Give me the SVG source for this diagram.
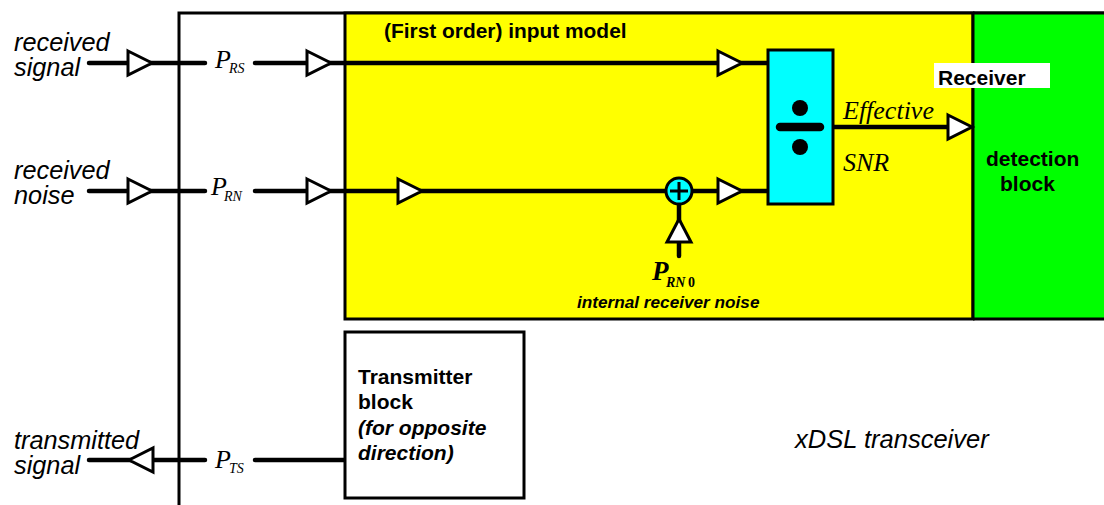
<svg xmlns="http://www.w3.org/2000/svg" width="1104" height="505" viewBox="0 0 1104 505">
<style>
.s{font-family:"Liberation Sans",Arial,sans-serif;fill:#000}
.i{font-style:italic}
.b{font-weight:bold}
.t{font-family:"Liberation Serif","Times New Roman",serif;font-style:italic;fill:#000}
.sub{font-size:14px}
.w{stroke:#000;stroke-width:4.500;stroke-linecap:round;fill:none}
.a{fill:#fff;stroke:#000;stroke-width:3}
.o{stroke:#000;stroke-width:3}
.l{stroke:#000;stroke-width:3;fill:none}
</style>
<defs>
<polygon id="ar" class="a" points="0,-12 24,0 0,12"/>
</defs>
<rect width="1104" height="505" fill="#fff"/>
<g id="transceiver"><path class="l" d="M179,505V13H1104"/></g>
<g id="input-model">
<rect x="345" y="13" width="628" height="306" fill="#ff0" class="o"/>
<text class="s b" x="384" y="38" font-size="20.900">(First order) input model</text>
</g>
<g id="detection-block">
<rect x="973" y="13" width="131" height="306" fill="#0f0"/>
<path class="l" d="M973,13V319M973,319H1104M973,13H1104"/>
<rect x="934" y="63" width="116" height="25" fill="#fff"/>
<text class="s b" x="938" y="85" font-size="21">Receiver</text>
<text class="s b" font-size="21"><tspan x="986" y="166">detection</tspan><tspan x="1000" y="191">block</tspan></text>
</g>
<g id="connectors">
<path class="w" d="M89,63H205M255,63H767M89,191H205M255,191H767M833,127H960M679,205V256M89,460H205M255,460H345"/>
<use href="#ar" x="128" y="63"/><use href="#ar" x="307" y="63"/><use href="#ar" x="718" y="63"/>
<use href="#ar" x="128" y="191"/><use href="#ar" x="307" y="191"/><use href="#ar" x="398" y="191"/><use href="#ar" x="718" y="191"/>
<use href="#ar" x="948" y="127"/>
<polygon class="a" points="679,219 691,242 667,242"/>
<polygon class="a" points="129,460 153,448 153,472"/>
</g>
<g id="divider">
<rect x="768" y="50" width="65" height="154" fill="#0ff" class="o"/>
<circle cx="800" cy="108" r="8"/><circle cx="800" cy="147" r="8"/>
<path d="M780,127H820" stroke="#000" stroke-width="8.500" stroke-linecap="round"/>
</g>
<g id="adder">
<circle cx="679" cy="191" r="13" fill="#0ff" class="o"/>
<path class="l" d="M679,182V200M670,191H688"/>
</g>
<g id="transmitter-block">
<rect x="345" y="332" width="179" height="166" fill="#fff" class="o"/>
<text class="s b" font-size="21"><tspan x="358" y="384">Transmitter</tspan><tspan x="358" y="409">block</tspan><tspan x="358" y="435" class="i">(for opposite</tspan><tspan x="358" y="460" class="i">direction)</tspan></text>
</g>
<g id="labels">
<text class="s i" font-size="25.300"><tspan x="14" y="51">received</tspan><tspan x="14" y="76">signal</tspan></text>
<text class="s i" font-size="25.300"><tspan x="14" y="179">received</tspan><tspan x="14" y="204">noise</tspan></text>
<text class="s i" font-size="25.300"><tspan x="14" y="449">transmitted</tspan><tspan x="14" y="474">signal</tspan></text>
<text class="t" font-size="26"><tspan x="215" y="68">P</tspan><tspan class="sub" x="229" y="73">RS</tspan></text>
<text class="t" font-size="26"><tspan x="211" y="195">P</tspan><tspan class="sub" x="224" y="201">RN</tspan></text>
<text class="t" font-size="26"><tspan x="215" y="468">P</tspan><tspan class="sub" x="229" y="473">TS</tspan></text>
<text class="t" x="843" y="119" font-size="26">Effective</text>
<text class="t" x="843" y="171" font-size="26">SNR</text>
<text class="t b" font-size="27"><tspan x="652" y="280">P</tspan><tspan class="sub" x="666" y="287">RN</tspan><tspan class="sub" x="688" y="287" style="font-style:normal">0</tspan></text>
<text class="s b i" x="577" y="308" font-size="17.200">internal receiver noise</text>
<text class="s i" x="795" y="448" font-size="25.500">xDSL transceiver</text>
</g>
</svg>
